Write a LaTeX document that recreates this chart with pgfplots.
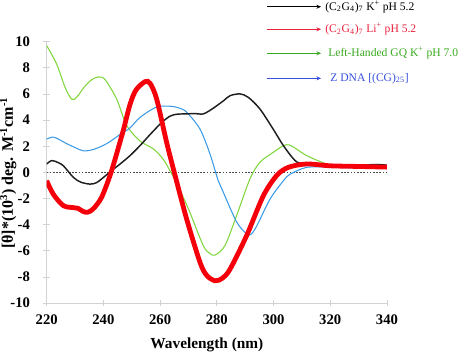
\documentclass[border=0pt]{standalone}
\usepackage{pgfplots}
\pgfplotsset{compat=1.18}
\usepackage{fontspec}
\setmainfont{Liberation Serif}
\usetikzlibrary{arrows.meta}
\definecolor{cRed}{RGB}{245,0,10}
\definecolor{cGreen}{RGB}{128,214,60}
\definecolor{cBlue}{RGB}{60,155,230}
\definecolor{cBlack}{RGB}{30,30,30}
\definecolor{lRed}{RGB}{232,32,60}
\definecolor{lGreen}{RGB}{55,170,30}
\definecolor{lBlue}{RGB}{55,80,220}
\begin{document}
\begin{tikzpicture}
\path[use as bounding box] (0pt,0pt) rectangle (355.5pt,266.25pt);
\begin{axis}[
  at={(35pt,39pt)}, anchor=south west,
  scale only axis, width=255.2pt, height=196pt,
  xmin=220, xmax=340, ymin=-10, ymax=10,
  axis x line*=bottom, axis y line*=left,
  axis line style={gray!35, line width=0.5pt},
  xtick={220,240,...,340}, ytick={-10,-8,...,10},
  tick align=center, major tick length=5pt,
  tick style={gray!35, line width=0.5pt},
  /pgf/number format/assume math mode=true,
  ticklabel style={font=\fontsize{11}{13}\selectfont\bfseries},
  yticklabel style={xshift=-6.5pt},
  xticklabel style={yshift=-3pt},
  xlabel={Wavelength (nm)},
  label style={font=\fontsize{11.5}{13}\selectfont\bfseries},
  xlabel style={at={(axis description cs:0.471,-0.161)}, anchor=center},
  clip=true,
]
\addplot[gray!60!black, line width=0.6pt, dash pattern=on 1.2pt off 1.2pt] coordinates {(220,0) (340,0)};
% Green: Left-handed GQ
\addplot[cGreen, line width=0.8pt, smooth, tension=0.5] coordinates {
(220,9.7) (223.5,8.3) (226.5,6.5) (228.8,5.6) (230.6,5.75) (233.5,6.6) (236,7.1) (238.2,7.3) (240.6,7.1)
(244.7,5.6) (248.2,3.6) (252.9,2.4) (257.6,1.8) (261.1,1.0) (264.7,-0.35) (267.5,-1.6) (270.5,-3.06)
(275.2,-5.6) (277.5,-6.2) (279.4,-6.33) (282.9,-5.6) (287,-3.3) (291.7,-0.5) (295.2,0.77) (299.9,1.53)
(303.5,2.04) (305.5,2.1) (308,1.8) (311.7,1.28) (318.8,0.64) (325,0.45) (330,0.4) (335,0.45) (340,0.35)};
% Blue: Z DNA
\addplot[cBlue, line width=0.8pt, smooth, tension=0.5] coordinates {
(220,2.55) (222.3,2.7) (224.5,2.5) (227,2.2) (230,1.9) (232.9,1.65) (236.4,1.74) (241.2,2.2) (245.9,2.9)
(249.4,3.4) (252.9,4.2) (258.8,5.0) (264.1,5.05) (267,4.9) (269.4,4.6) (274.1,3.3) (277.6,1.4)
(280.5,-0.64) (282.3,-1.53) (287,-3.8) (290.5,-4.7) (292,-4.75) (294.1,-4.1) (298.8,-2.04) (303.5,-0.64)
(305.8,-0.15) (311.7,0.38) (320,0.4) (330,0.35) (336,0.6) (340,0.5)};
% Black: K+
\addplot[cBlack, line width=1.1pt, smooth, tension=0.5] coordinates {
(220,0.64) (221.8,0.9) (224,0.75) (225.9,0.5) (229.4,-0.38) (232,-0.75) (235.3,-0.9) (237.5,-0.8) (239.4,-0.5)
(242.9,0.13) (245.9,0.64) (249.4,1.28) (252.9,2.04) (256.5,2.9) (260.5,3.8) (263.5,4.3) (266,4.45)
(269.4,4.47) (272,4.5) (275.2,4.47) (278,4.8) (280,5.1) (282.5,5.5) (284.7,5.87) (288.2,6.0) (291.1,5.74)
(295.2,4.85) (299.9,3.3) (303.5,2.04) (307.6,0.9) (310.5,0.64) (315,0.55) (320,0.5) (325,0.55) (330,0.45)
(335,0.6) (340,0.55)};
% Red: Li+
\addplot[cRed, line width=3.6pt, smooth, tension=0.5] coordinates {
(220,-0.64) (222.3,-1.66) (225.9,-2.55) (229.4,-2.7) (231,-2.75) (232.9,-3.0) (234.5,-3.05) (236.4,-2.8)
(239.4,-1.9) (242.9,0.13) (247,3.2) (249.4,5.2) (251.5,6.3) (254.7,6.94) (256.5,6.8) (258.8,5.6)
(262.3,2.3) (265.3,-0.25) (269.4,-3.6) (274.1,-6.9) (276.5,-7.9) (279.4,-8.3) (282,-8.1) (284.7,-7.4)
(290.5,-4.85) (296.4,-1.8) (301.1,-0.25) (305.2,0.38) (311.7,0.64) (320,0.5) (330,0.45) (340,0.4)};
\end{axis}
% y label
\node[rotate=90, anchor=center, inner sep=0pt, font=\fontsize{12}{14}\selectfont\bfseries] at (6.2pt,136.5pt)
  {[θ]*(10\textsuperscript{3}) deg. M\textsuperscript{-1}cm\textsuperscript{-1}};
% legend
\begin{scope}[font=\fontsize{8.7}{10}\selectfont]
\draw[black, line width=0.9pt, -{Stealth[length=3.5pt,width=3pt]}] (200.2pt,261.2pt) -- (240.8pt,261.2pt);
\node[anchor=west, inner sep=0pt, black] at (243.8pt,261.2pt) {(C\textsubscript{2}G\textsubscript{4})\textsubscript{7} K\textsuperscript{+} pH 5.2};
\draw[lRed, line width=0.9pt, -{Stealth[length=3.5pt,width=3pt]}] (200.2pt,244.3pt) -- (240.8pt,244.3pt);
\node[anchor=west, inner sep=0pt, lRed] at (243.8pt,244.3pt) {(C\textsubscript{2}G\textsubscript{4})\textsubscript{7} Li\textsuperscript{+} pH 5.2};
\draw[lGreen, line width=0.9pt, -{Stealth[length=3.5pt,width=3pt]}] (200.2pt,226.3pt) -- (240.8pt,226.3pt);
\node[anchor=west, inner sep=0pt, lGreen] at (246pt,226.3pt) {Left-Handed GQ K\textsuperscript{+} pH 7.0};
\draw[lBlue, line width=0.9pt, -{Stealth[length=3.5pt,width=3pt]}] (200.2pt,207.5pt) -- (240.8pt,207.5pt);
\node[anchor=west, inner sep=0pt, lBlue] at (247.5pt,207.5pt) {Z DNA [(CG)\textsubscript{25}]};
\end{scope}
\end{tikzpicture}
\end{document}
